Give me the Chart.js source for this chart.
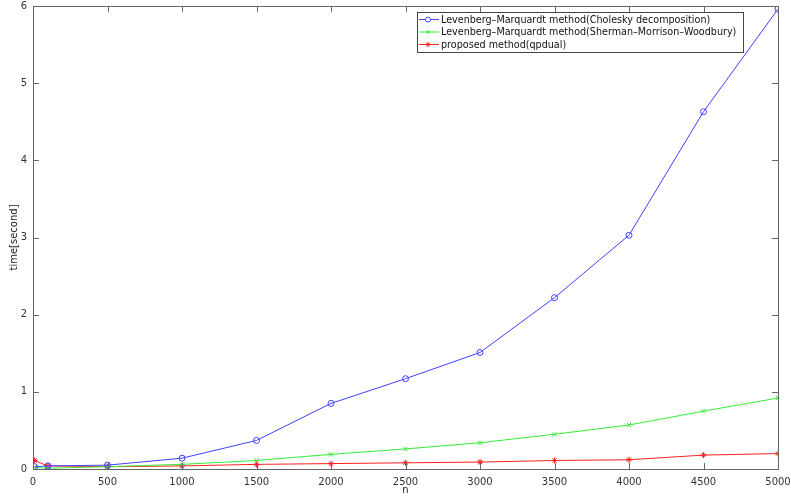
<!DOCTYPE html>
<html>
<head>
<meta charset="utf-8">
<script src="https://cdn.jsdelivr.net/npm/chart.js@4"></script>
<style>
  html, body { margin: 0; padding: 0; background: #fff; }
  #wrap { width: 791px; height: 496px; position: relative; }
</style>
</head>
<body>
<div id="wrap"><canvas id="chart"></canvas></div>
<script>
  // problem size n
  const nValues = [10, 100, 500, 1000, 1500, 2000, 2500, 3000, 3500, 4000, 4500, 5000];
  // time [second]
  const lmCholesky = [0.03, 0.04, 0.05, 0.14, 0.37, 0.85, 1.17, 1.51, 2.22, 3.03, 4.63, 5.96];
  const lmSMW = [0.02, 0.01, 0.03, 0.06, 0.11, 0.19, 0.26, 0.34, 0.45, 0.57, 0.75, 0.92];
  const qpdual = [0.11, 0.04, 0.03, 0.04, 0.06, 0.07, 0.08, 0.09, 0.11, 0.12, 0.18, 0.20];

  const xTicks = [0, 500, 1000, 1500, 2000, 2500, 3000, 3500, 4000, 4500, 5000];
  const yTicks = [0, 1, 2, 3, 4, 5, 6];

  const seriesLabels = [
    'Levenberg\u2013Marquardt method(Cholesky decomposition)',
    'Levenberg\u2013Marquardt method(Sherman\u2013Morrison\u2013Woodbury)',
    'proposed method(qpdual)'
  ];

  const FONT = '"DejaVu Sans", sans-serif';

  const toPoints = (ys) => ys.map((y, i) => ({ x: nValues[i], y }));

  const datasets = [
    { label: seriesLabels[0], data: toPoints(lmCholesky), borderColor: '#4040ff', pointStyle: 'circle', pointRadius: 3, pointBackgroundColor: 'rgba(0,0,0,0)' },
    { label: seriesLabels[1], data: toPoints(lmSMW), borderColor: '#33ee33', pointStyle: 'crossRot', pointRadius: 3 },
    { label: seriesLabels[2], data: toPoints(qpdual), borderColor: '#ff2020', pointStyle: 'star', pointRadius: 3 }
  ].map((d) => ({ ...d, borderWidth: 1, pointBorderWidth: 1, pointBorderColor: d.borderColor, tension: 0 }));

  /* ── box, inward ticks, axis titles, legend ── */
  const matlabAxes = {
    id: 'matlabAxes',
    afterDatasetsDraw(chart) {
      const { ctx, chartArea: a, scales } = chart;
      ctx.save();
      ctx.strokeStyle = '#666';
      ctx.lineWidth = 1;
      ctx.strokeRect(Math.round(a.left) + 0.5, Math.round(a.top) + 0.5,
        Math.round(a.right - a.left), Math.round(a.bottom - a.top));
      ctx.beginPath();
      for (const t of xTicks) {
        const px = Math.round(scales.x.getPixelForValue(t)) + 0.5;
        ctx.moveTo(px, a.bottom); ctx.lineTo(px, a.bottom - 6);
        ctx.moveTo(px, a.top); ctx.lineTo(px, a.top + 6);
      }
      for (const t of yTicks) {
        const py = Math.round(scales.y.getPixelForValue(t)) + 0.5;
        ctx.moveTo(a.left, py); ctx.lineTo(a.left + 6, py);
        ctx.moveTo(a.right, py); ctx.lineTo(a.right - 6, py);
      }
      ctx.stroke();

      // axis titles
      ctx.fillStyle = '#222';
      ctx.font = '10px ' + FONT;
      ctx.textAlign = 'center';
      ctx.textBaseline = 'middle';
      ctx.fillText('n', (a.left + a.right) / 2, 490);
      ctx.save();
      ctx.translate(14, (a.top + a.bottom) / 2);
      ctx.rotate(-Math.PI / 2);
      ctx.fillText('time[second]', 0, 0);
      ctx.restore();

      // legend
      const lx = 417, ly = 12, lw = 326, lh = 40;
      ctx.fillStyle = '#fff';
      ctx.fillRect(lx, ly, lw, lh);
      ctx.strokeStyle = '#444';
      ctx.strokeRect(lx + 0.5, ly + 0.5, lw, lh);
      ctx.textAlign = 'left';
      ctx.font = '9.6px ' + FONT;
      chart.data.datasets.forEach((ds, i) => {
        const y = ly + 7 + i * 12.5;
        ctx.strokeStyle = ds.borderColor;
        ctx.beginPath();
        ctx.moveTo(lx + 2, y + 0.5); ctx.lineTo(lx + 22, y + 0.5);
        ctx.stroke();
        Chart.helpers.drawPoint(ctx, { pointStyle: ds.pointStyle, radius: 2.5, borderWidth: 1 }, lx + 11, y + 0.5);
        ctx.fillStyle = '#111';
        ctx.fillText(ds.label, lx + 24, y + 1);
      });
      ctx.restore();
    }
  };

  new Chart(document.getElementById('chart'), {
    type: 'line',
    data: { datasets },
    options: {
      responsive: true,
      maintainAspectRatio: false,
      animation: false,
      layout: { padding: { top: 6, right: 13, left: 0, bottom: 0 } },
      plugins: { legend: { display: false }, tooltip: { enabled: false } },
      scales: {
        x: {
          type: 'linear', min: 0, max: 5000,
          afterBuildTicks: (s) => { s.ticks = xTicks.map((v) => ({ value: v })); },
          afterFit: (s) => { s.height = 27; s.paddingLeft = 0; s.paddingRight = 0; },
          grid: { display: false, drawTicks: false },
          border: { display: false },
          ticks: { color: '#333', font: { family: FONT, size: 10 }, padding: 7, maxRotation: 0, callback: (v) => String(v) }
        },
        y: {
          min: 0, max: 6,
          afterBuildTicks: (s) => { s.ticks = yTicks.map((v) => ({ value: v })); },
          afterFit: (s) => { s.width = 33; s.paddingTop = 0; s.paddingBottom = 0; },
          grid: { display: false, drawTicks: false },
          border: { display: false },
          ticks: { color: '#333', font: { family: FONT, size: 10 }, padding: 6, callback: (v) => String(v) }
        }
      }
    },
    plugins: [matlabAxes]
  });
</script>
</body>
</html>
